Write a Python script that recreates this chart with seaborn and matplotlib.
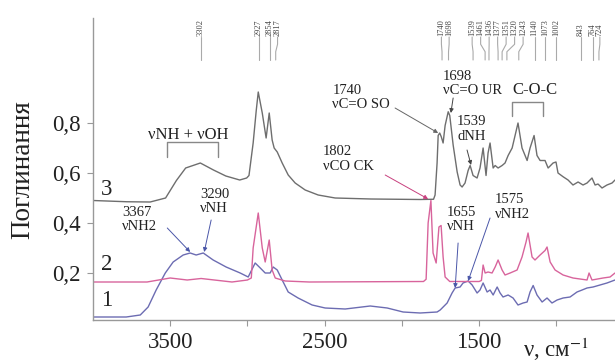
import pandas as pd
import matplotlib
matplotlib.use('Agg')
import matplotlib.pyplot as plt
import seaborn as sns

# ИЧ-спектри: хвильове число (см-1) та поглинання для кривих 1, 2, 3
wn_3 = [4000, 3780, 3630, 3530, 3460, 3400, 3305, 3220, 3140, 3050,
        3005, 2990, 2963, 2943, 2930, 2904, 2879, 2859, 2840, 2827,
        2807, 2775, 2736, 2691, 2626, 2542, 2432, 2200, 1880, 1795,
        1785, 1772, 1765, 1755, 1745, 1733, 1720, 1700, 1690, 1668,
        1642, 1623, 1610, 1591, 1571, 1558, 1539, 1513, 1494, 1474,
        1455, 1442, 1429, 1409, 1396, 1377, 1351, 1332, 1312, 1286,
        1248, 1222, 1189, 1170, 1144, 1125, 1105, 1073, 1053, 1021,
        1002, 989, 956, 924, 892, 859, 827, 801, 769, 749,
        730, 704, 672, 639, 620]
abs_3 = [0.49, 0.485, 0.484, 0.50, 0.57, 0.62, 0.64, 0.612, 0.588, 0.572,
         0.58, 0.59, 0.72, 0.85, 0.924, 0.84, 0.74, 0.84, 0.732, 0.70,
         0.684, 0.64, 0.592, 0.56, 0.532, 0.512, 0.50, 0.496, 0.494, 0.495,
         0.512, 0.64, 0.75, 0.76, 0.745, 0.72, 0.79, 0.845, 0.83, 0.712,
         0.604, 0.552, 0.544, 0.56, 0.61, 0.63, 0.59, 0.58, 0.62, 0.70,
         0.59, 0.68, 0.72, 0.62, 0.63, 0.62, 0.63, 0.64, 0.67, 0.70,
         0.80, 0.70, 0.65, 0.70, 0.75, 0.67, 0.65, 0.65, 0.62, 0.64,
         0.644, 0.60, 0.585, 0.572, 0.552, 0.564, 0.552, 0.56, 0.58, 0.552,
         0.556, 0.54, 0.552, 0.56, 0.572]

wn_2 = [4000, 3650, 3500, 3390, 3300, 3100, 3000, 2975, 2963, 2930,
        2904, 2885, 2859, 2840, 2820, 2756, 2600, 1860, 1843, 1830,
        1812, 1798, 1778, 1760, 1746, 1733, 1720, 1690, 1500, 1485,
        1474, 1461, 1442, 1416, 1396, 1377, 1351, 1332, 1299, 1254,
        1222, 1196, 1183, 1157, 1138, 1105, 1073, 1060, 1040, 1008,
        956, 892, 801, 788, 769, 697, 652, 620]
abs_2 = [0.164, 0.164, 0.18, 0.172, 0.178, 0.164, 0.172, 0.18, 0.30, 0.44,
         0.30, 0.244, 0.332, 0.212, 0.18, 0.168, 0.164, 0.166, 0.175, 0.40,
         0.49, 0.28, 0.24, 0.384, 0.39, 0.264, 0.184, 0.166, 0.166, 0.17,
         0.232, 0.20, 0.204, 0.20, 0.224, 0.252, 0.212, 0.192, 0.20, 0.212,
         0.264, 0.324, 0.36, 0.264, 0.252, 0.272, 0.29, 0.304, 0.244, 0.212,
         0.192, 0.18, 0.172, 0.20, 0.172, 0.18, 0.184, 0.20]

wn_1 = [4000, 3785, 3694, 3643, 3591, 3532, 3481, 3416, 3371, 3332,
        3286, 3222, 3138, 3047, 2995, 2950, 2917, 2885, 2853, 2833,
        2807, 2775, 2736, 2672, 2581, 2497, 2367, 2205, 2095, 1992,
        1882, 1772, 1752, 1707, 1675, 1655, 1623, 1604, 1571, 1545,
        1513, 1494, 1474, 1448, 1429, 1409, 1383, 1364, 1345, 1312,
        1280, 1248, 1215, 1189, 1170, 1150, 1125, 1092, 1060, 1028,
        995, 956, 911, 866, 833, 801, 762, 717, 672, 620]
abs_1 = [0.024, 0.024, 0.032, 0.064, 0.132, 0.20, 0.244, 0.272, 0.28, 0.272,
         0.28, 0.252, 0.224, 0.20, 0.184, 0.24, 0.22, 0.20, 0.20, 0.224,
         0.212, 0.172, 0.124, 0.10, 0.072, 0.06, 0.056, 0.068, 0.06, 0.044,
         0.04, 0.044, 0.052, 0.08, 0.12, 0.14, 0.144, 0.16, 0.168, 0.152,
         0.12, 0.132, 0.16, 0.124, 0.132, 0.112, 0.144, 0.12, 0.104, 0.112,
         0.10, 0.072, 0.08, 0.084, 0.124, 0.15, 0.112, 0.084, 0.10, 0.08,
         0.092, 0.10, 0.104, 0.124, 0.132, 0.14, 0.144, 0.152, 0.16, 0.172]

curve_names = ['1', '2', '3']
curve_colors = ['#6c6cb2', '#d8649c', '#6e6e6e']

# мітки піків угорі (підписи трохи розсунуті, щоб не налазили)
peaks = [3302, 2927, 2854, 2817, 1740, 1698, 1539, 1461, 1436, 1377,
         1351, 1320, 1243, 1140, 1073, 1002, 843, 764, 724]
peak_label_pos = [3302, 2927, 2854, 2805, 1744, 1694, 1545, 1490, 1435, 1380,
                  1325, 1270, 1215, 1140, 1073, 1002, 843, 764, 718]

x_ticks = [3500, 3000, 2500, 2000, 1500, 1000]
x_tick_labels = ['3500', '', '2500', '', '1500', '']
y_ticks = [0.2, 0.4, 0.6, 0.8]
y_tick_labels = ['0,2', '0,4', '0,6', '0,8']

# Стиль
sns.set_style('ticks')
plt.rcParams['font.family'] = ['Liberation Serif', 'DejaVu Serif']
plt.rcParams['mathtext.fontset'] = 'stix'

fig = plt.figure(figsize=(6.15, 3.64), dpi=100)
ax = fig.add_axes([93 / 615, 44 / 364, 522 / 615, 302 / 364])

spectra = pd.concat([
    pd.DataFrame({'wn': wn_1, 'abs': abs_1, 'curve': '1'}),
    pd.DataFrame({'wn': wn_2, 'abs': abs_2, 'curve': '2'}),
    pd.DataFrame({'wn': wn_3, 'abs': abs_3, 'curve': '3'}),
])
sns.lineplot(data=spectra, x='wn', y='abs', hue='curve',
             palette=dict(zip(curve_names, curve_colors)),
             estimator=None, sort=False, legend=False, linewidth=1.0, ax=ax)

ax.set_xlim(4000, 620)
ax.set_ylim(0.012, 1.22)
ax.set_xticks(x_ticks)
ax.set_xticklabels(x_tick_labels)
ax.set_yticks(y_ticks)
ax.set_yticklabels(y_tick_labels)
ax.tick_params(labelsize=16.5, colors='#999999', labelcolor='#222222',
               length=4, width=0.8, pad=5)
ax.set_xlabel('')
ax.set_ylabel('')
sns.despine(ax=ax)
for s in ['left', 'bottom']:
    ax.spines[s].set_color('#999999')
    ax.spines[s].set_linewidth(1.0)

# номери кривих
for name, yv in zip(['3', '2', '1'], [0.534, 0.234, 0.09]):
    ax.text(3948, yv, name, fontsize=16.5, ha='left', va='center', color='#222222')

# мітки піків
for p, lp in zip(peaks, peak_label_pos):
    ax.plot([p, p, lp, lp], [1.052, 1.085, 1.115, 1.144], color='#aaaaaa',
            lw=0.8, clip_on=False)
    ax.text(lp, 1.148, str(p), rotation=90, fontsize=6, ha='center',
            va='bottom', color='#444444', clip_on=False)

# дужки
ax.plot([3519, 3519, 3189, 3189], [0.664, 0.724, 0.724, 0.664], color='#888888', lw=1.0)
ax.text(3642, 0.784, 'νNH + νOH', fontsize=12, ha='left', va='top', color='#222222')
ax.plot([1286, 1286, 1086, 1086], [0.828, 0.884, 0.884, 0.828], color='#888888', lw=1.0)
ax.text(1286, 0.962, 'C-O-C', fontsize=12, ha='left', va='top', color='#222222')

# підписи зі стрілками: текст, позиція тексту, початок і кінець стрілки, колір
notes = [
    ('3367\nνNH2', (3811, 0.468), (3519, 0.38), (3371, 0.284), '#4a56a8'),
    ('3290\nνNH', (3306, 0.54), (3235, 0.412), (3280, 0.284), '#4a56a8'),
    ('1802\nνCO CK', (2510, 0.712), (2108, 0.592), (1830, 0.496), '#c8407e'),
    ('1740\nνC=O SO', (2451, 0.956), (2044, 0.86), (1765, 0.76), '#666666'),
    ('1698\nνC=O UR', (1733, 1.012), (1668, 0.90), (1683, 0.84), '#444444'),
    ('1539\ndNH', (1642, 0.832), (1578, 0.692), (1552, 0.632), '#444444'),
    ('1655\nνNH', (1707, 0.468), (1636, 0.32), (1655, 0.14), '#4a56a8'),
    ('1575\nνNH2', (1396, 0.52), (1429, 0.42), (1571, 0.168), '#4a56a8'),
]
for label, tpos, start, tip, c in notes:
    ax.text(tpos[0], tpos[1], label, fontsize=10.5, ha='left', va='top',
            color='#222222', linespacing=1.15)
    ax.annotate('', xy=tip, xytext=start,
                arrowprops=dict(arrowstyle='-|>', color=c, lw=0.7,
                                mutation_scale=6, shrinkA=0, shrinkB=0))

fig.text(23 / 615, 1 - 170 / 364, 'Поглинання', rotation=90, fontsize=19.5,
         ha='center', va='center', color='#222222')
fig.text(523 / 615, 7 / 364, 'ν, см$^{-1}$', fontsize=16.5, ha='left',
         va='baseline', color='#222222')

plt.savefig('out.png', dpi=100)
